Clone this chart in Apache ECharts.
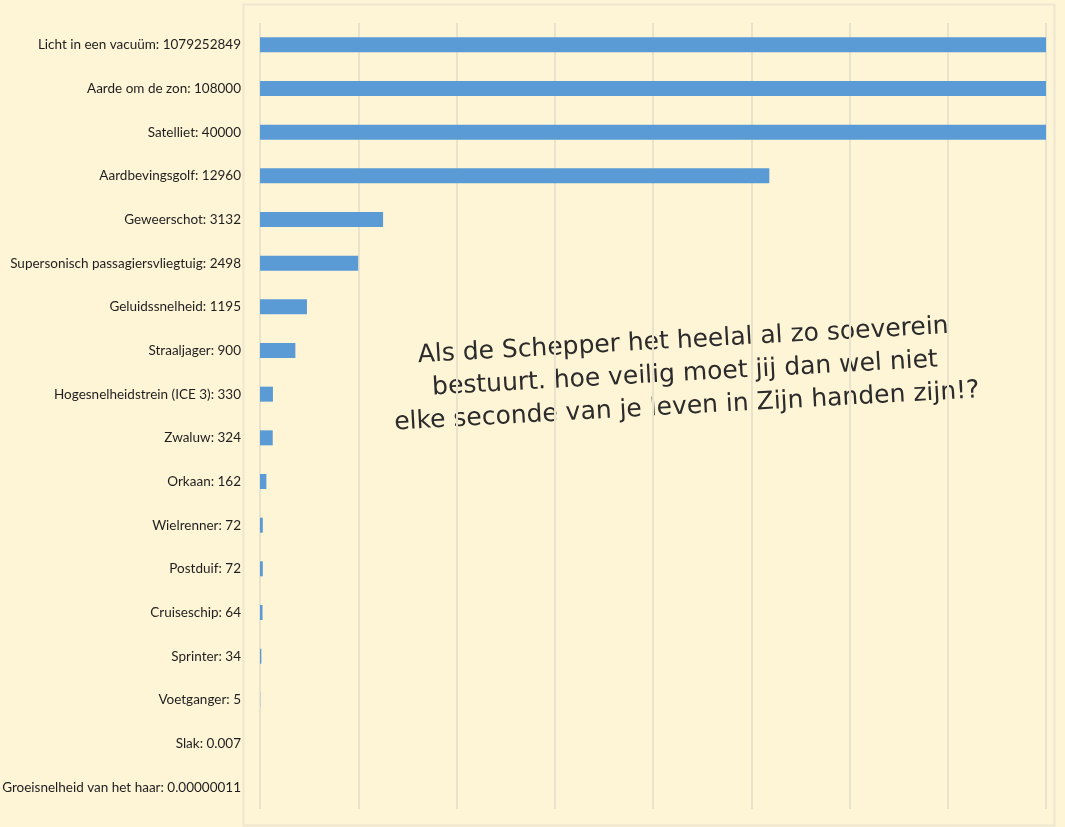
<!DOCTYPE html>
<html lang="nl">
<head>
    <meta charset="UTF-8">
    <title>Snelheden</title>
    <script src="https://cdn.jsdelivr.net/npm/echarts@6/dist/echarts.min.js"></script>
    <style>
        html, body { margin: 0; padding: 0; background: #fef4d6; }
    </style>
</head>
<body>
<div id="main" style="width: 1065px;height:827px;"></div>

<script type="text/javascript">
    // snelheden in km/u
    var names = ['Licht in een vacuüm', 'Aarde om de zon', 'Satelliet', 'Aardbevingsgolf', 'Geweerschot',
        'Supersonisch passagiersvliegtuig', 'Geluidssnelheid', 'Straaljager', 'Hogesnelheidstrein (ICE 3)',
        'Zwaluw', 'Orkaan', 'Wielrenner', 'Postduif', 'Cruiseschip', 'Sprinter', 'Voetganger', 'Slak',
        'Groeisnelheid van het haar'];
    var values = [1079252849, 108000, 40000, 12960, 3132, 2498, 1195, 900, 330, 324, 162, 72, 72, 64, 34, 5, 0.007, 0.00000011];
    var axisMax = 20000;
    var axisStep = 2500;

    function fmt(v) {
        if (v < 1) return v.toFixed(8).replace(/0+$/, '');
        return String(v);
    }

    var cats = [];
    for (var i = 0; i < names.length; i++) {
        cats.push(names[i] + ': ' + fmt(values[i]));
    }

    // smalle letter als die er is, anders Lato wat kleiner
    var cv = document.createElement('canvas').getContext('2d');
    cv.font = '16px monospace';
    var wMono = cv.measureText('Groeisnelheid van het haar').width;
    cv.font = '16px "Liberation Sans Narrow", monospace';
    var wNarrow = cv.measureText('Groeisnelheid van het haar').width;
    var labelFont = 'Lato', labelSize = 13.5;
    if (Math.abs(wMono - wNarrow) > 1) {
        labelFont = '"Liberation Sans Narrow"';
        labelSize = 16;
    }

    var myChart = echarts.init(document.getElementById('main'));
    var option = {
        backgroundColor: '#fef4d6',
        animation: false,
        grid: { left: 260, right: 19, top: 23, bottom: 18, containLabel: false, outerBoundsMode: 'none' },
        xAxis: {
            type: 'value',
            min: 0,
            max: axisMax,
            interval: axisStep,
            axisLabel: { show: false },
            axisLine: { show: false },
            axisTick: { show: false },
            splitLine: { show: true, lineStyle: { color: '#e9e2cd', width: 2 } }
        },
        yAxis: {
            type: 'category',
            inverse: true,
            data: cats,
            axisLine: { show: false },
            axisTick: { show: false },
            axisLabel: {
                margin: 19,
                color: '#1e1e1e',
                fontFamily: labelFont,
                fontSize: labelSize
            }
        },
        series: [{
            type: 'bar',
            data: values,
            barWidth: 15,
            clip: true,
            itemStyle: { color: '#5b9bd5' }
        }],
        graphic: [
            {
                type: 'rect',
                shape: { x: 243.5, y: 4.5, width: 811, height: 821 },
                style: { fill: 'none', stroke: '#ede6d0', lineWidth: 2 },
                silent: true
            },
            {
                type: 'text',
                x: 685,
                y: 374,
                rotation: 0.055,
                style: {
                    text: 'Als de Schepper het heelal al zo soeverein\nbestuurt. hoe veilig moet jij dan wel niet\nelke seconde van je leven in Zijn handen zijn!?',
                    fill: '#2b2b2b',
                    font: '25px "DejaVu Sans"',
                    lineHeight: 33,
                    align: 'center',
                    verticalAlign: 'middle'
                }
            }
        ]
    };
    myChart.setOption(option);
</script>
</body>
</html>
